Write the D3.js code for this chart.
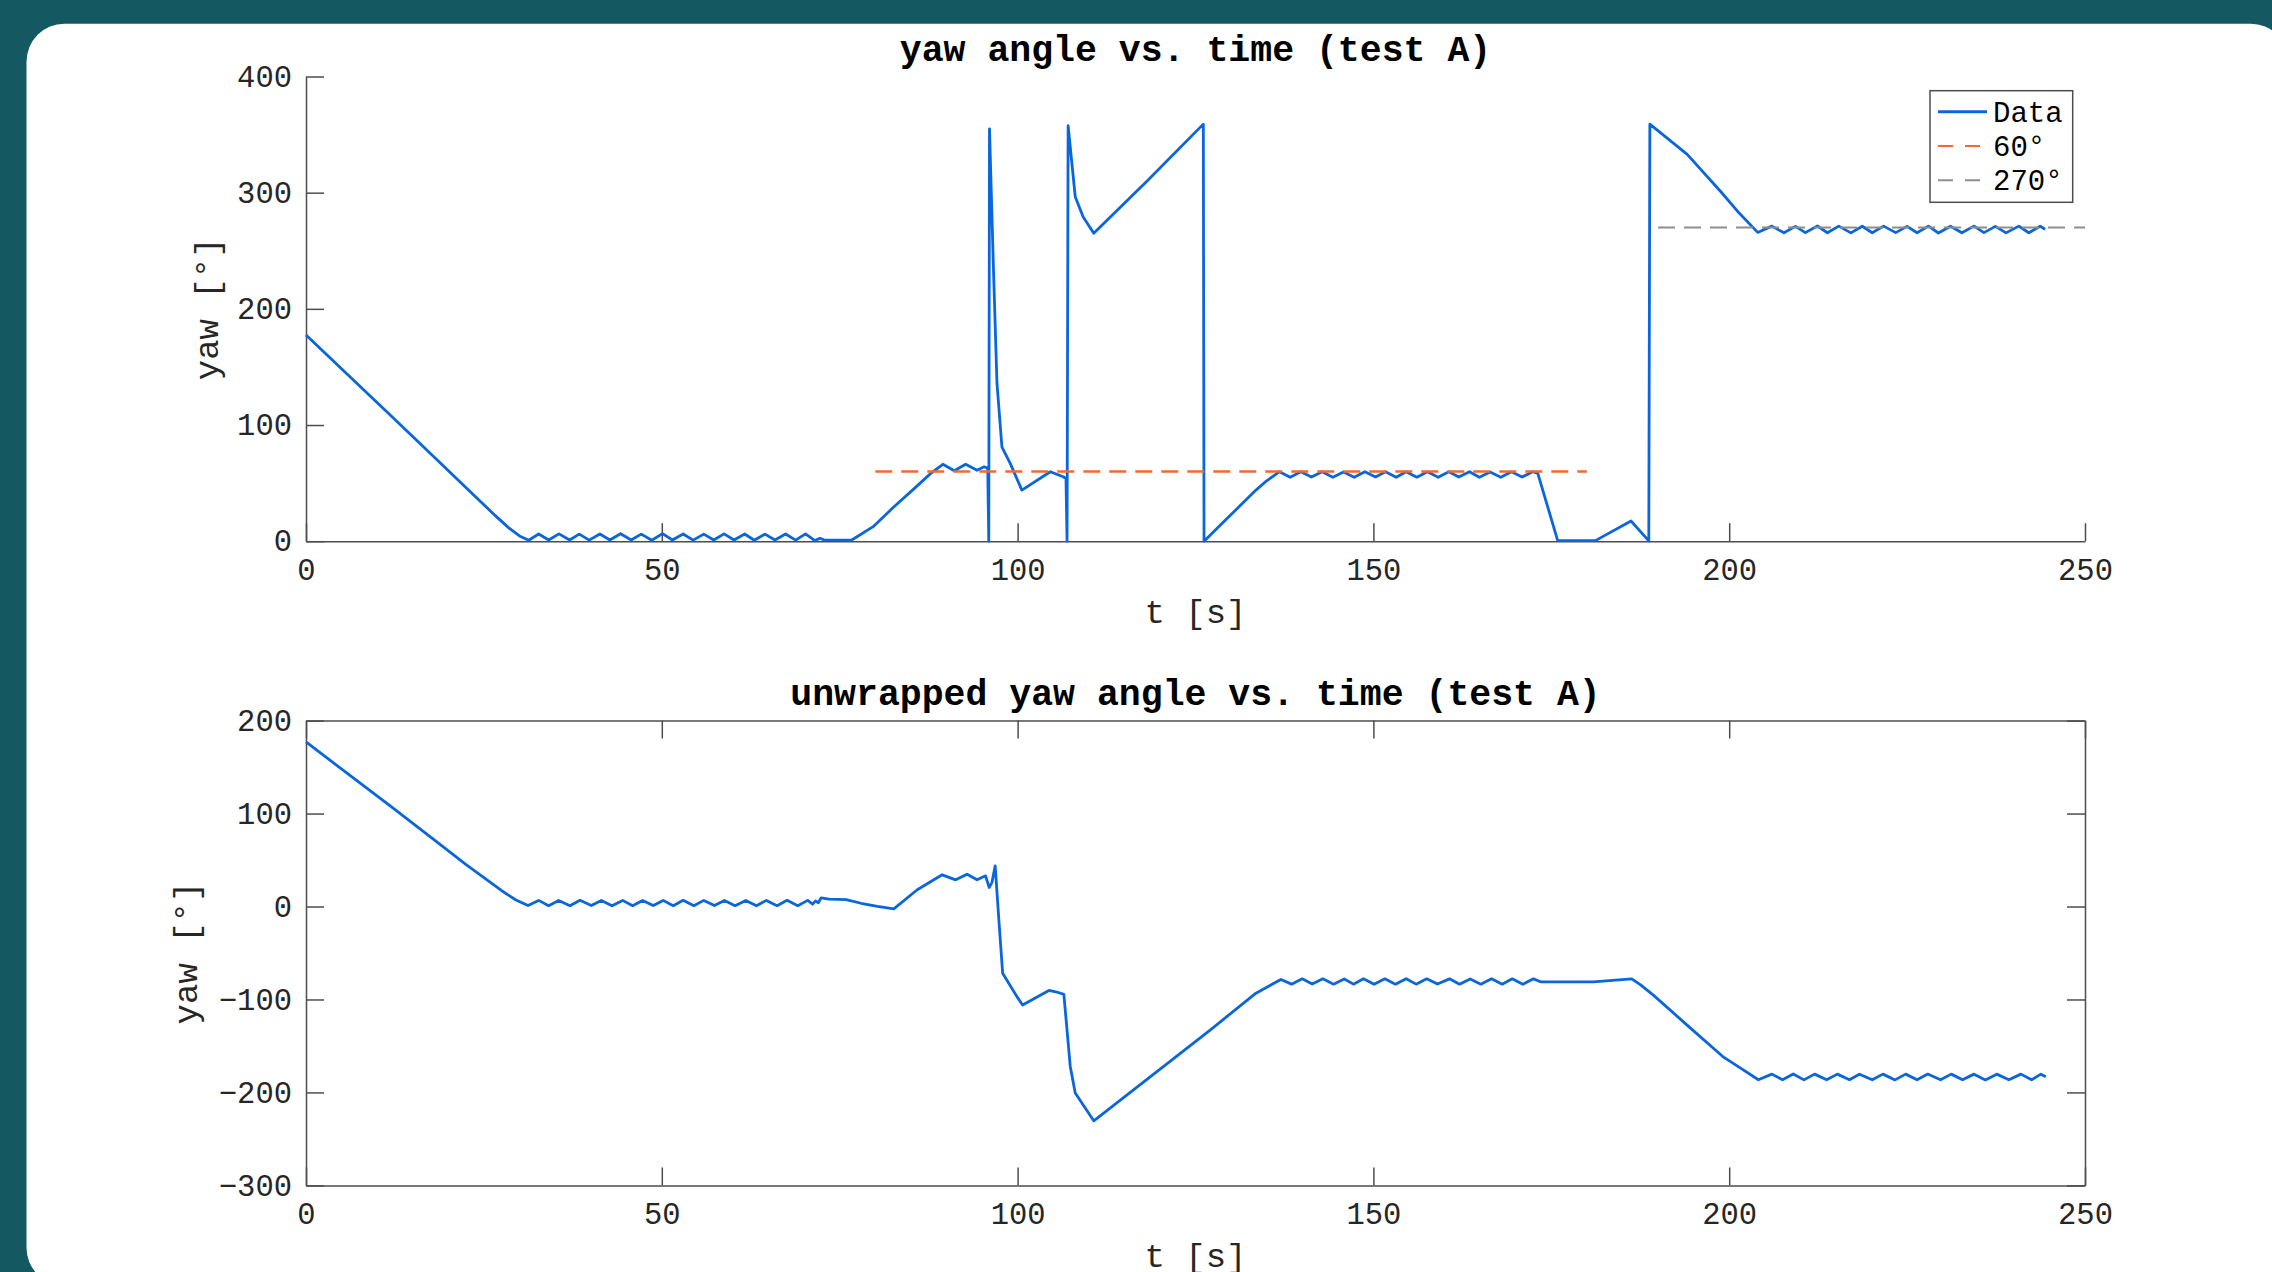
<!DOCTYPE html>
<html>
<head>
<meta charset="utf-8">
<script src="https://cdn.jsdelivr.net/npm/d3@7"></script>
<style>
  html, body { margin: 0; padding: 0; background: #145862; }
  svg { display: block; }
  .axis path, .axis line { stroke: #4d4d4d; stroke-width: 1.5; }
  .axis text { font-family: 'Liberation Mono', 'DejaVu Sans Mono', monospace; font-size: 30.5px; fill: #262626; }
  .title { font-family: 'Liberation Mono', monospace; font-weight: bold; font-size: 36.5px; fill: #000; }
  .label { font-family: 'Liberation Mono', monospace; font-size: 34px; fill: #262626; }
  .legend text { font-family: 'Liberation Mono', monospace; font-size: 29px; fill: #000; }
</style>
</head>
<body>
<svg id="chart" width="2272" height="1272"></svg>
<script>

// ----- Data -----------------------------------------------------------------
var T_TICKS = [0, 50, 100, 150, 200, 250];
var YAW_TICKS_TOP = [0, 100, 200, 300, 400];
var YAW_TICKS_BOTTOM = [-300, -200, -100, 0, 100, 200];

// wrapped yaw, top panel
var WRAP_T = [
  0, 12.2, 18, 22.5, 26.6, 28.5, 30, 31.3,
  32.7, 34.1, 35.55, 37.05, 38.4, 39.8, 41.3, 42.7, 44.2, 45.7, 47.1, 48.6,
  50.1, 51.5, 53.0, 54.4, 55.9, 57.3, 58.75, 60.15, 61.65, 63.0, 64.5, 65.9,
  67.4, 68.8, 70.2, 71.5, 72.2, 72.8, 76.7,
  79.7, 82.4, 85.5, 87.8, 89.5, 91.1, 92.7, 94.3, 95.3, 95.8, 95.95,
  96.05, 96.6, 97.1, 97.8, 98.96, 100.6, 104.6, 106.4, 106.8, 106.95,
  107.1, 108.1, 109.2, 110.7, 118.2, 126.1, 126.2, 128.5, 133.5, 135, 136.8,
  138.3, 139.8, 141.3, 142.8, 144.3, 145.8, 147.3, 148.8, 150.3, 151.7,
  153.2, 154.6, 156.1, 157.6, 159.1, 160.6, 162.0, 163.5, 164.9, 166.4,
  167.9, 169.4, 170.9, 172.4, 173.1, 175.9, 181.2, 186.2, 188.7,
  188.85, 194.1, 198.8, 201.1, 204.0,
  206.0, 207.7, 209.3, 210.7, 212.4, 213.8, 215.4, 217.1, 218.7, 220.1,
  221.7, 223.4, 225.0, 226.4, 228.0, 229.4, 231.1, 232.7, 234.4, 235.8,
  237.4, 238.9, 240.7, 242.1, 243.7, 244.4
];
var WRAP_YAW = [
  177.5, 106.5, 72.5, 46, 22, 11.5, 4.5, 0.8,
  6.2, 1, 6.3, 1, 6.1, 0.9, 6.2, 1, 6.4, 1, 6.1, 0.8,
  6.5, 1, 6.2, 0.9, 6.1, 1, 6.3, 1, 6.2, 0.8, 6.1, 1,
  6.2, 0.9, 6.3, 0.4, 2.5, 1.2, 1,
  12.5, 28.3, 45.5, 58.4, 66.2, 60.7, 66.2, 61.1, 64, 63, 0,
  355, 236, 136, 81, 67, 44, 59.8, 55.5, 54, 0,
  357.6, 296.5, 279.3, 265, 310, 359, 0, 13.9, 44, 52, 59.8,
  55, 59.8, 55.2, 59.8, 55, 59.6, 55, 59.8, 55.3, 59.8,
  55, 59.8, 55.1, 59.7, 55, 59.8, 55.2, 59.8, 55, 59.6,
  55, 59.8, 55.2, 59.8, 58.4, 0.5, 0.5, 17.4, 0.3,
  359, 333, 301, 284.5, 265.8,
  271.2, 265.5, 271.0, 265.6, 271.3, 265.5, 271.2, 265.4, 271.1, 265.5,
  271.2, 265.6, 271.0, 265.5, 271.2, 265.3, 271.1, 265.5, 271.2, 265.6,
  271.0, 265.4, 271.2, 265.5, 271.1, 268.5
];

// unwrapped yaw, bottom panel
var UNWRAP_T = [
  0, 12.2, 17.7, 22.5, 27.5, 29.5, 31.2,
  32.7, 34.1, 35.5, 37.1, 38.5, 40.1, 41.5, 43.0, 44.5, 45.9, 47.3, 48.8,
  50.2, 51.6, 53.0, 54.5, 55.9, 57.4, 58.8, 60.3, 61.8, 63.3, 64.7, 66.2,
  67.6, 69.1, 70.5, 71.2, 71.6, 72.0, 72.4, 73.5, 75.9, 78, 80.3, 82.6,
  85.9, 89.4, 91.3, 92.9, 94.3, 95.5, 96.0, 96.4, 96.85, 97.4, 97.9,
  99.9, 100.7, 104.4, 105.5, 106.5, 106.9, 107.4, 108.1, 110.7, 127.1,
  133.5, 137.0,
  138.5, 140.0, 141.4, 142.9, 144.4, 145.9, 147.2, 148.6, 150.1, 151.6,
  153.1, 154.6, 156.0, 157.5, 159.0, 160.7, 162.1, 163.6, 165.1, 166.6,
  168.1, 169.5, 171.0, 172.5, 173.5, 180.9, 186.3, 187.5, 189.3, 194,
  199.1, 201.6, 204.1,
  206.0, 207.5, 209.0, 210.5, 212.0, 213.7, 215.2, 216.9, 218.3, 220.1,
  221.6, 223.3, 224.8, 226.4, 227.9, 229.7, 231.2, 232.8, 234.4, 236.0,
  237.6, 239.3, 241.0, 242.5, 243.8, 244.5
];
var UNWRAP_YAW = [
  177, 106, 73.5, 45, 17, 7, 1,
  6.6, 0.9, 6.5, 0.9, 6.7, 1, 6.6, 0.8, 6.6, 0.9, 6.5, 1,
  6.6, 0.9, 6.7, 0.9, 6.6, 1, 6.5, 0.9, 6.6, 0.8, 6.6, 0.9,
  6.7, 0.9, 6.6, 2.5, 6, 4, 9.4, 8, 7.5, 3.5, 0.2, -2.5,
  18, 34.1, 28.7, 34.8, 28.7, 33, 20.5, 26, 43.8, -18, -71.7,
  -96.8, -106, -90.3, -92, -94.5, -129, -172, -200.7, -230.5, -132.6,
  -93.2, -78.5,
  -83.5, -77.8, -83.4, -77.8, -83.5, -77.9, -83.5, -77.8, -83.6, -77.8,
  -83.5, -77.7, -83.5, -77.8, -83.4, -77.8, -83.5, -77.9, -83.5, -77.8,
  -83.5, -77.8, -83.6, -77.8, -81, -81, -77.8, -84, -95, -127,
  -161.4, -173.9, -186.4,
  -180.3, -186.4, -180.2, -186.5, -180.3, -186.4, -180.3, -186.3, -180.4, -186.4,
  -180.3, -186.5, -180.3, -186.4, -180.2, -186.4, -180.3, -186.4, -180.3, -186.5,
  -180.3, -186.4, -180.3, -186.4, -180.3, -183
];

// reference levels on the top panel
var REF_LABELS = ['60°', '270°'];
var REF_VALUES = [60, 270];
var REF_T_START = [80, 190];
var REF_T_END = [180, 250];

var LINE_COLOR = '#0a66dc';
var REF_COLORS = ['#f36a2c', '#8e8e8a'];

// ----- SVG Setup ------------------------------------------------------------
var SVG = d3.select('#chart');

SVG.append('rect')
    .attr('x', 26.5)
    .attr('y', 23.7)
    .attr('width', 2262)
    .attr('height', 1262)
    .attr('rx', 38)
    .attr('fill', '#ffffff');

var LEFT = 306, RIGHT = 2085;

var x = d3.scaleLinear().domain([0, 250]).range([LEFT, RIGHT]);
var yTop = d3.scaleLinear().domain([0, 400]).range([541.2, 76.5]);
var yBot = d3.scaleLinear().domain([-300, 200]).range([1185.4, 720.6]);

function drawAxes(g, yScale, yTicks, boxed) {
  var yMin = yScale.range()[0], yMax = yScale.range()[1];

  g.append('g')
      .attr('class', 'axis')
      .attr('transform', 'translate(0,' + yMin + ')')
      .call(d3.axisBottom(x).tickValues(T_TICKS)
        .tickSizeInner(-18).tickSizeOuter(0).tickPadding(17));

  g.append('g')
      .attr('class', 'axis')
      .attr('transform', 'translate(' + LEFT + ',0)')
      .call(d3.axisLeft(yScale).tickValues(yTicks)
        .tickSizeInner(-18).tickSizeOuter(0).tickPadding(14));

  if (!boxed) return;

  g.append('g')
      .attr('class', 'axis')
      .attr('transform', 'translate(0,' + yMax + ')')
      .call(d3.axisTop(x).tickValues(T_TICKS)
        .tickSizeInner(-18).tickSizeOuter(0).tickFormat(''));

  g.append('g')
      .attr('class', 'axis')
      .attr('transform', 'translate(' + RIGHT + ',0)')
      .call(d3.axisRight(yScale).tickValues(yTicks)
        .tickSizeInner(-18).tickSizeOuter(0).tickFormat(''));
}

function drawLabels(g, yScale, title, titleY, yLabelX) {
  var yMin = yScale.range()[0], yMax = yScale.range()[1];
  var cx = (LEFT + RIGHT) / 2;

  g.append('text')
      .attr('class', 'title')
      .attr('x', cx)
      .attr('y', titleY)
      .attr('text-anchor', 'middle')
      .text(title);

  g.append('text')
      .attr('class', 'label')
      .attr('x', cx)
      .attr('y', yMin + 82)
      .attr('text-anchor', 'middle')
      .text('t [s]');

  g.append('text')
      .attr('class', 'label')
      .attr('text-anchor', 'middle')
      .attr('transform', 'translate(' + yLabelX + ',' + ((yMin + yMax) / 2) + ') rotate(-90)')
      .text('yaw [°]');
}

function drawSeries(g, yScale, ts, vs) {
  var line = d3.line()
      .x((d) => x(d[0]))
      .y((d) => yScale(d[1]));

  g.append('path')
      .datum(d3.zip(ts, vs))
      .attr('fill', 'none')
      .attr('stroke', LINE_COLOR)
      .attr('stroke-width', 2.8)
      .attr('stroke-linejoin', 'round')
      .attr('d', line);
}

// ----- Top panel: wrapped yaw -----------------------------------------------
var topPanel = SVG.append('g');
drawAxes(topPanel, yTop, YAW_TICKS_TOP, false);
drawSeries(topPanel, yTop, WRAP_T, WRAP_YAW);

REF_VALUES.forEach((v, i) => {
  topPanel.append('line')
      .attr('x1', x(REF_T_START[i]))
      .attr('x2', x(REF_T_END[i]))
      .attr('y1', yTop(v))
      .attr('y2', yTop(v))
      .attr('stroke', REF_COLORS[i])
      .attr('stroke-width', i === 0 ? 2.6 : 2)
      .attr('stroke-dasharray', '17,9');
});

drawLabels(topPanel, yTop, 'yaw angle vs. time (test A)', 60.5, 218);

// legend
var legend = topPanel.append('g').attr('class', 'legend');
legend.append('rect')
    .attr('x', 1930)
    .attr('y', 90.7)
    .attr('width', 142.7)
    .attr('height', 111.6)
    .attr('fill', '#ffffff')
    .attr('stroke', '#4d4d4d')
    .attr('stroke-width', 1.5);

var legendLabels = ['Data'].concat(REF_LABELS);
var legendColors = [LINE_COLOR].concat(REF_COLORS);
legendLabels.forEach((lab, i) => {
  var ly = 111.7 + i * 34.3;
  legend.append('line')
      .attr('x1', 1938)
      .attr('x2', 1987)
      .attr('y1', ly)
      .attr('y2', ly)
      .attr('stroke', legendColors[i])
      .attr('stroke-width', i === 0 ? 3 : 2)
      .attr('stroke-dasharray', i === 0 ? null : '15,12');
  legend.append('text')
      .attr('x', 1993)
      .attr('y', ly)
      .attr('dy', '0.35em')
      .text(lab);
});

// ----- Bottom panel: unwrapped yaw ------------------------------------------
var bottomPanel = SVG.append('g');
drawAxes(bottomPanel, yBot, YAW_TICKS_BOTTOM, true);
drawSeries(bottomPanel, yBot, UNWRAP_T, UNWRAP_YAW);
drawLabels(bottomPanel, yBot, 'unwrapped yaw angle vs. time (test A)', 704.5, 197);

</script>
</body>
</html>
